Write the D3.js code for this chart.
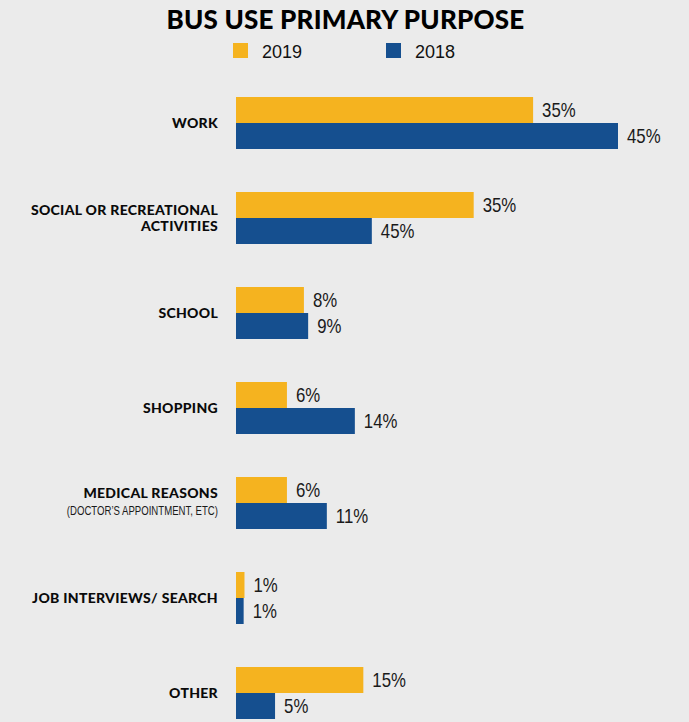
<!DOCTYPE html>
<html>
<head>
<meta charset="utf-8">
<script src="https://cdn.jsdelivr.net/npm/d3@7"></script>
<style>
  html, body { margin: 0; padding: 0; background: #ebebeb; }
  svg { display: block; }
</style>
</head>
<body>
<svg id="chart" width="689" height="722"></svg>
<script>
// ---- data ----
const categories = ["WORK", "SOCIAL OR RECREATIONAL ACTIVITIES", "SCHOOL", "SHOPPING", "MEDICAL REASONS", "JOB INTERVIEWS/ SEARCH", "OTHER"];
const categoryLines = [["WORK"], ["SOCIAL OR RECREATIONAL", "ACTIVITIES"], ["SCHOOL"], ["SHOPPING"], ["MEDICAL REASONS"], ["JOB INTERVIEWS/ SEARCH"], ["OTHER"]];
const categoryNotes = ["", "", "", "", "(DOCTOR’S APPOINTMENT, ETC)", "", ""];
const seriesNames = ["2019", "2018"];
const values2019 = [35, 28, 8, 6, 6, 1, 15];
const values2018 = [45, 16, 8.5, 14, 10.7, 0.9, 4.6];
const labels2019 = ["35%", "35%", "8%", "6%", "6%", "1%", "15%"];
const labels2018 = ["45%", "45%", "9%", "14%", "11%", "1%", "5%"];
const seriesColors = ["#f5b31f", "#154f8f"];
const titleText = "BUS USE PRIMARY PURPOSE";

// ---- layout ----
const svg = d3.select("#chart");
const W = 689;
const x0 = 236;

const x = d3.scaleLinear().domain([0, 45]).range([x0, 618]);
const y = d3.scaleBand().domain(categories).range([97, 719]).paddingInner(43 / 95).paddingOuter(0);
const ySub = d3.scaleBand().domain(seriesNames).range([0, y.bandwidth()]).padding(0);
const color = d3.scaleOrdinal().domain(seriesNames).range(seriesColors);

const narrow = "'Liberation Sans', Arial, sans-serif";
const heavy = "'Lato', 'Noto Sans', 'DejaVu Sans', sans-serif";

// title
svg.append("text")
  .attr("x", W / 2 + 1)
  .attr("y", 29)
  .attr("text-anchor", "middle")
  .style("font-family", heavy)
  .style("font-weight", 900)
  .style("font-size", "26px")
  .style("letter-spacing", "0.2px")
  .style("fill", "#000")
  .text(titleText);

// legend
const legendX = [233, 386];
const legend = svg.append("g");
seriesNames.forEach((s, i) => {
  legend.append("rect")
    .attr("x", legendX[i]).attr("y", 43)
    .attr("width", 15).attr("height", 15)
    .attr("fill", color(s));
  legend.append("text")
    .attr("x", legendX[i] + 29).attr("y", 58)
    .style("font-family", "'Liberation Sans', Arial, sans-serif")
    .style("font-size", "18px")
    .style("fill", "#111")
    .text(s);
});

// rows
const rows = categories.map((c, i) => ({
  cat: c,
  lines: categoryLines[i],
  note: categoryNotes[i],
  bars: [
    { s: seriesNames[0], v: values2019[i], label: labels2019[i] },
    { s: seriesNames[1], v: values2018[i], label: labels2018[i] }
  ]
}));

const g = svg.selectAll("g.row").data(rows).enter().append("g")
  .attr("class", "row")
  .attr("transform", d => `translate(0,${y(d.cat)})`);

g.selectAll("rect").data(d => d.bars).enter().append("rect")
  .attr("x", x(0))
  .attr("y", d => ySub(d.s))
  .attr("width", d => x(d.v) - x(0))
  .attr("height", ySub.bandwidth())
  .attr("fill", d => color(d.s));

const sx = 0.84;
g.selectAll("text.val").data(d => d.bars).enter().append("text")
  .attr("class", "val")
  .attr("transform", d => `translate(${x(d.v) + 9},${ySub(d.s) + ySub.bandwidth() / 2 + 7}) scale(${sx},1)`)
  .style("font-family", narrow)
  .style("font-size", "20px")
  .style("fill", "#1a1a1a")
  .text(d => d.label);

// category labels
g.each(function(d) {
  const sel = d3.select(this);
  const mid = y.bandwidth() / 2;
  const lh = 16;
  const n = d.lines.length;
  let startY = mid - (n - 1) * lh / 2 + 5;
  if (d.note) startY = mid - 5;
  d.lines.forEach((t, k) => {
    sel.append("text")
      .attr("x", 218)
      .attr("y", startY + k * lh)
      .attr("text-anchor", "end")
      .style("font-family", heavy)
      .style("font-weight", 900)
      .style("font-size", "14px")
      .style("letter-spacing", "0.3px")
      .style("fill", "#0a0a0a")
      .text(t);
  });
  if (d.note) {
    sel.append("text")
      .attr("transform", `translate(218,${startY + d.lines.length * lh + 1}) scale(0.8,1)`)
      .attr("text-anchor", "end")
      .style("font-family", narrow)
      .style("font-size", "12px")
      .style("fill", "#1a1a1a")
      .text(d.note);
  }
});
</script>
</body>
</html>
